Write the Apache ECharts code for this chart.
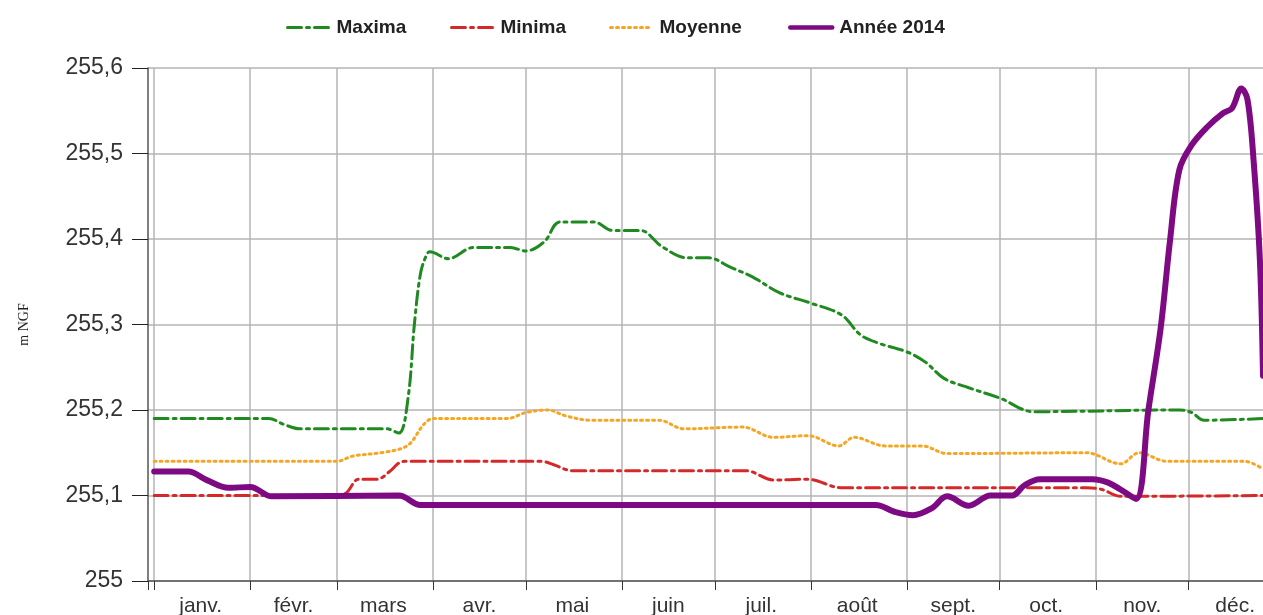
<!DOCTYPE html>
<html>
<head>
<meta charset="utf-8">
<script src="https://cdn.jsdelivr.net/npm/echarts@6/dist/echarts.min.js"></script>
<style>
html,body{margin:0;padding:0;background:#fff;}
#chart{width:1263px;height:615px;}
</style>
</head>
<body>
<div id="chart"></div>
<script>
// ---- data (day of year 0 = 1 Jan, value in m NGF) ----
const monthNames = ['janv.','févr.','mars','avr.','mai','juin','juil.','août','sept.','oct.','nov.','déc.'];
const monthLengths = [31,28,31,30,31,30,31,31,30,31,30,31];
const yTicks = [255, 255.1, 255.2, 255.3, 255.4, 255.5, 255.6];
const seriesNames = ['Maxima','Minima','Moyenne','Année 2014'];

const maximaPts = [[0,255.19],[37,255.19],[42,255.183],[47,255.178],[75,255.178],[79,255.173],[82,255.215],[84,255.30],[86,255.36],[88,255.382],[89,255.385],[95,255.377],[103,255.39],[115,255.39],[120,255.386],[126,255.397],[131,255.42],[142,255.42],[148,255.41],[157,255.41],[164,255.391],[172,255.378],[179,255.378],[186,255.367],[193,255.356],[202,255.337],[212,255.325],[222,255.311],[228,255.288],[234,255.278],[243,255.268],[249,255.256],[255,255.237],[263,255.226],[273,255.214],[284,255.198],[331,255.2],[335,255.197],[339,255.188],[358,255.19]];
const minimaPts = [[0,255.1],[59,255.1],[62,255.103],[66,255.119],[72,255.119],[76,255.128],[79,255.138],[81,255.14],[125,255.14],[129,255.136],[135,255.129],[191,255.129],[200,255.118],[211,255.119],[222,255.109],[301,255.109],[306,255.107],[312,255.099],[358,255.1]];
const moyennePts = [[0,255.14],[59,255.14],[64,255.146],[75,255.151],[82,255.159],[87,255.183],[90,255.19],[114,255.19],[120,255.197],[127,255.2],[133,255.193],[141,255.188],[163,255.188],[171,255.178],[190,255.18],[200,255.168],[211,255.17],[221,255.158],[226,255.168],[236,255.158],[248,255.158],[256,255.149],[301,255.15],[312,255.137],[318,255.15],[327,255.14],[352,255.14],[358,255.131]];
const annee2014Pts = [[0,255.128],[11,255.128],[17,255.118],[24,255.109],[31,255.11],[38,255.099],[79,255.1],[86,255.089],[233,255.089],[239,255.081],[245,255.077],[251,255.085],[256,255.099],[263,255.088],[270,255.1],[277,255.1],[281,255.112],[286,255.119],[303,255.119],[308,255.115],[312,255.107],[317,255.096],[321,255.2],[325,255.297],[328,255.399],[331,255.481],[335,255.51],[340,255.531],[345,255.547],[348,255.553],[351,255.576],[353,255.563],[355,255.49],[357,255.375],[358,255.24]];

// ---- axis construction ----
const PAD = 2;          // categories before 1 Jan
const LAST_DAY = 358;   // last visible day
const categories = [];
for (let i = 0; i < PAD + LAST_DAY + 1; i++) categories.push('d' + (i - PAD));
const monthStart = {};
const labelAt = {};
let acc = 0;
monthLengths.forEach((len, m) => {
  monthStart[acc + PAD] = true;
  labelAt[acc + PAD + Math.floor(len / 2)] = monthNames[m];
  acc += len;
});
const toIdx = pts => pts.map(p => [p[0] + PAD, p[1]]);

const FONT = 'Liberation Sans, Arial, sans-serif';
const colors = ['#1f8a1f', '#d62828', '#f5a623', '#7d0a82'];
const styles = [
  {type: [14, 5, 3, 5], width: 3},
  {type: [14, 5, 3, 5], width: 3},
  {type: [2, 4], width: 3},
  {type: 'solid', width: 6}
];
const allPts = [maximaPts, minimaPts, moyennePts, annee2014Pts];
const legendLefts = [281, 445, 604, 783];

const chart = echarts.init(document.getElementById('chart'));
chart.setOption({
  animation: false,
  backgroundColor: '#fff',
  legend: seriesNames.map((n, i) => ({
    data: [n],
    left: legendLefts[i],
    top: 13,
    itemWidth: 42,
    itemHeight: 14,
    itemStyle: {opacity: 0},
    lineStyle: {width: i === 3 ? 4.5 : 3, opacity: 1},
    textStyle: {fontFamily: FONT, fontWeight: 'bold', fontSize: 19, color: '#222', padding: [0, 0, 0, 2]}
  })),
  grid: {left: 148, right: 0, top: 68, bottom: 34, containLabel: false, outerBoundsMode: 'none'},
  xAxis: {
    type: 'category',
    data: categories,
    boundaryGap: false,
    axisLine: {show: true, lineStyle: {color: '#555', width: 1.5}},
    axisTick: {show: true, length: 9, interval: (idx) => idx === 0 || monthStart[idx] === true, lineStyle: {color: '#333'}},
    splitLine: {show: true, interval: (idx) => monthStart[idx] === true, lineStyle: {color: '#b4b4b4', width: 1.5}},
    axisLabel: {
      interval: (idx) => labelAt[idx] !== undefined,
      formatter: (v, idx) => labelAt[idx] || '',
      fontFamily: FONT, fontSize: 21, color: '#333', margin: 15
    }
  },
  yAxis: {
    type: 'value',
    min: 255, max: 255.6, interval: 0.1,
    name: 'm NGF',
    nameLocation: 'middle',
    nameGap: 117,
    nameTextStyle: {fontFamily: 'Liberation Serif, serif', fontSize: 14, color: '#222'},
    axisLine: {show: true, lineStyle: {color: '#555', width: 1.5}},
    axisTick: {show: true, length: 16, lineStyle: {color: '#222'}},
    splitLine: {show: true, lineStyle: {color: '#b4b4b4', width: 1.5}},
    axisLabel: {
      fontFamily: FONT, fontSize: 23, color: '#333', margin: 25,
      formatter: v => String(Math.round(v * 10) / 10).replace('.', ',')
    }
  },
  series: seriesNames.map((n, i) => ({
    name: n,
    type: 'line',
    data: toIdx(allPts[i]),
    smooth: 0.35,
    symbol: 'none',
    color: colors[i],
    lineStyle: {color: colors[i], width: styles[i].width, type: styles[i].type, cap: 'round'},
    z: 2 + i
  }))
});
</script>
</body>
</html>
